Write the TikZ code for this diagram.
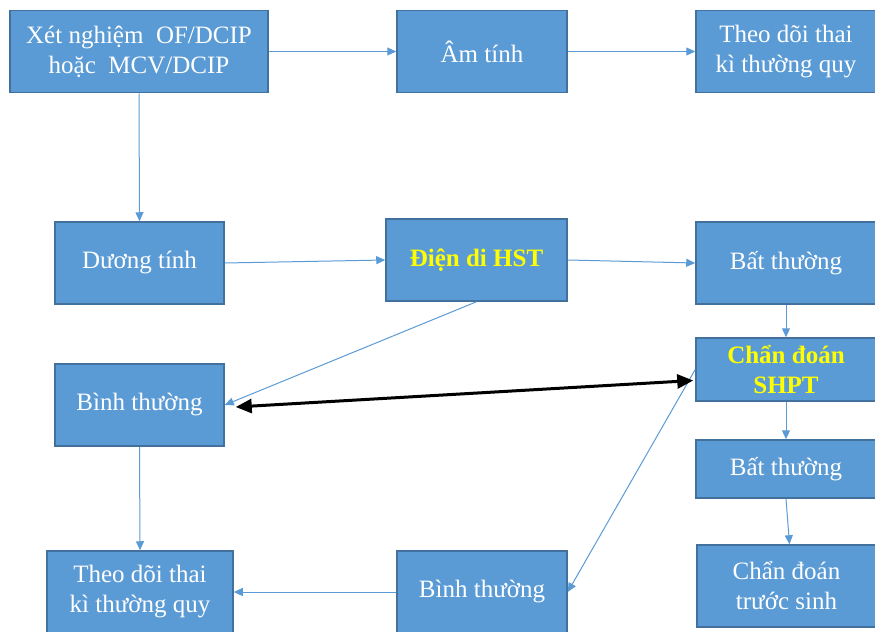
\documentclass[tikz,border=0pt]{standalone}
\usepackage{fontspec}
\setmainfont{Liberation Serif}
\usetikzlibrary{positioning,calc,arrows.meta}
\definecolor{boxfill}{HTML}{5B9BD5}
\definecolor{boxline}{HTML}{41719C}
\definecolor{hiyellow}{HTML}{FFFF00}

\begin{document}
\begin{tikzpicture}[x=0.5pt, y=-0.5pt,
			block/.style={rectangle, draw=boxline, fill=boxfill, line width=0.75pt, text=white, align=center, inner sep=1pt, minimum width=85pt, minimum height=41pt, font=\fontsize{12.5}{15}\selectfont},
			key/.style={block, text=hiyellow, font=\fontsize{12.5}{15}\selectfont\bfseries},
			link/.style={draw=boxfill, line width=0.5pt, -{Triangle[length=4.5pt, width=4pt]}}]
			\useasboundingbox (0,0) rectangle (875,632);
			\node[block, minimum width=129pt] (test) at (139,51.5) {Xét nghiệm\ \ OF/DCIP\\hoặc\ \ MCV/DCIP};
			\node[block] (neg) at (482,51.5) {Âm tính};
			\node[block, minimum width=90pt] (follow1) at (786,51.5) {Theo dõi thai\\kì thường quy};
			\node[block, minimum width=84.5pt] (pos) at (139.5,263) {Dương tính};
			\node[key, minimum width=90.5pt] (hst) at (476.5,260) {Điện di HST};
			\node[block, minimum width=90pt] (abn1) at (786,263) {Bất thường};
			\node[key, minimum width=90pt, minimum height=31.5pt] (shpt) at (786,369.5) {Chẩn đoán\\SHPT};
			\node[block, minimum width=84.5pt] (norm1) at (139.5,405) {Bình thường};
			\node[block, minimum width=90pt, minimum height=29pt] (abn2) at (786,469) {Bất thường};
			\node[block, minimum width=89.5pt] (prenatal) at (786.5,586) {Chẩn đoán\\trước sinh};
			\node[block, minimum width=93pt] (follow2) at (140,592) {Theo dõi thai\\kì thường quy};
			\node[block] (norm2) at (482,592) {Bình thường};
			\begin{scope}[link]
				\draw (test.east) -- (neg.west);
				\draw (neg.east) -- (follow1.west);
				\draw (test.south) -- (pos.north);
				\draw (pos.east) -- (hst.west);
				\draw (hst.east) -- (abn1.west);
				\draw (hst.south) -- (norm1.east);
				\draw (abn1.south) -- (shpt.north);
				\draw (shpt.south) -- (abn2.north);
				\draw (abn2.south) -- ($(prenatal.north)+(3,0)$);
				\draw (shpt.west) -- (norm2.east);
				\draw (norm1.south) -- (follow2.north);
				\draw (norm2.west) -- (follow2.east);
			\end{scope}
			\draw[line width=1.5pt, {Triangle[length=8pt, width=7pt]}-{Triangle[length=8pt, width=7pt]}] ($(norm1.east)+(11,2)$) -- ($(shpt.west)+(-2,11)$);
		\end{tikzpicture}
\end{document}
